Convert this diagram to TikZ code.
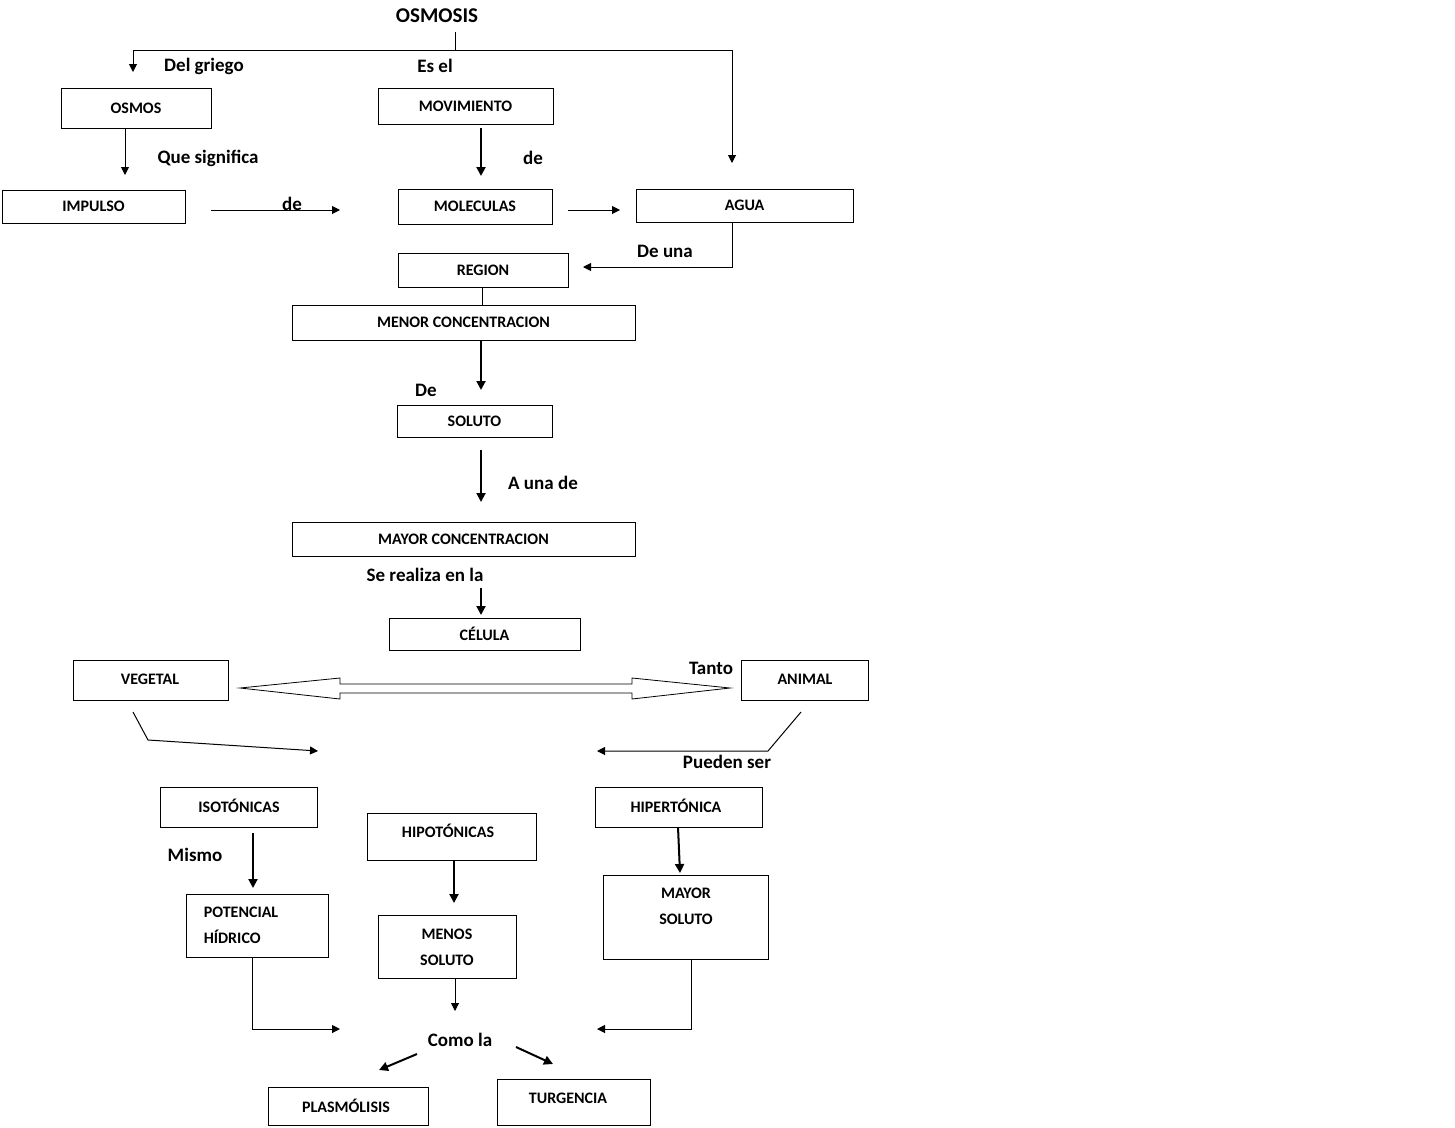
\documentclass[tikz,border=0pt]{standalone}
\usepackage{fontspec}
\setmainfont{Carlito}
\usetikzlibrary{arrows.meta}
\begin{document}
\begin{tikzpicture}[x=1pt,y=-1pt,
 bx/.style={draw,line width=1pt},
 bt/.style={font=\bfseries\fontsize{16}{26}\selectfont,align=center,inner sep=0},
 lb/.style={font=\bfseries\fontsize{19}{22}\selectfont,inner sep=0},
 ar/.style={-{Triangle[length=8pt,width=8pt]},line width=1pt},
 thk/.style={-{Triangle[length=9pt,width=9pt]},line width=2pt}]
\useasboundingbox (0,0) rectangle (1455,1127);
\newcommand\bb[6]{\draw[bx] (#2,#3) rectangle (#4,#5); \node[bt] (#1) at ({(#2+#4)/2},{(#3+#5)/2}) {#6};}
\node[lb,font=\bfseries\fontsize{21}{24}\selectfont] (t) at (437,16) {OSMOSIS};
\draw[line width=1pt] (455,32)--(455,50);
\draw[line width=1pt] (455,50)--(133,50); \draw[line width=1pt] (455,50)--(732,50);
\draw[ar] (133,50)--(133,72); \draw[ar] (732,50)--(732,163);
\node[lb] at (204,66) {Del griego}; \node[lb] at (435,66) {Es el};
\bb{osmos}{61}{88}{211}{128}{OSMOS}
\bb{mov}{378}{88}{553}{124}{MOVIMIENTO}
\bb{imp}{2}{190}{185}{223}{IMPULSO}
\bb{mol}{398}{189}{552}{224}{MOLECULAS}
\bb{agua}{636}{189}{853}{222}{AGUA}
\bb{reg}{398}{253}{568}{287}{REGION}
\bb{men}{292}{305}{635}{340}{MENOR CONCENTRACION}
\bb{sol}{397}{405}{552}{437}{SOLUTO}
\bb{may}{292}{522}{635}{556}{MAYOR CONCENTRACION}
\bb{cel}{389}{618}{580}{650}{CÉLULA}
\draw[bx] (73,660) rectangle (228,700); \node[bt] (veg) at (150,679) {VEGETAL};
\draw[bx] (741,660) rectangle (868,700); \node[bt] (ani) at (805,679) {ANIMAL};
\draw[bx] (160,787) rectangle (317,827); \node[bt] (iso) at (239,806) {ISOTÓNICAS};
\draw[bx] (367,813) rectangle (536,860); \node[bt] (hipo) at (448,831) {HIPOTÓNICAS};
\draw[bx] (595,787) rectangle (762,827); \node[bt] (hiper) at (676,806) {HIPERTÓNICA};
\draw[bx] (186,894) rectangle (328,957); \node[bt,align=left] (pot) at (241,925) {POTENCIAL\\HÍDRICO};
\draw[bx] (378,915) rectangle (516,978); \node[bt] (mens) at (447,947) {MENOS\\SOLUTO};
\draw[bx] (603,875) rectangle (768,959); \node[bt] (mays) at (686,906) {MAYOR\\SOLUTO};
\draw[bx] (268,1087) rectangle (428,1125); \node[bt] (pla) at (346,1106) {PLASMÓLISIS};
\draw[bx] (497,1079) rectangle (650,1125); \node[bt] (tur) at (568,1098) {TURGENCIA};
\draw[ar] (125,128)--(125,175); \node[lb] at (208,158) {Que significa};
\draw[thk] (481,128)--(481,176); \node[lb] at (533,158) {de};
\draw[ar] (211,210)--(340,210); \node[lb] at (292,204) {de};
\draw[ar] (568,210)--(620,210);
\draw[ar] (732,222)--(732,267)--(583,267); \node[lb] at (665,251) {De una};
\draw[line width=1pt] (482,287)--(482,305);
\draw[thk] (481,340)--(481,390); \node[lb] at (426,390) {De};
\draw[thk] (481,450)--(481,502); \node[lb] at (543,483) {A una de};
\draw[thk] (481,588)--(481,615); \node[lb] at (425,575) {Se realiza en la};
\draw[line width=0.8pt] (240,688)--(340,678)--(340,684)--(632,684)--(632,678)--(730,688)--(632,699)--(632,693)--(340,693)--(340,699)--cycle;
\node[lb] at (711,668) {Tanto};
\draw[ar] (133,712)--(148,740)--(318,751);
\draw[ar] (801,712)--(768,751)--(597,751); \node[lb] at (727,762) {Pueden ser};
\draw[thk] (253,833)--(253,888); \node[lb] at (195,855) {Mismo};
\draw[thk] (454,860)--(454,903);
\draw[thk] (678,827)--(680,873);
\draw[ar] (252,957)--(252,1029)--(340,1029);
\draw[ar] (455,978)--(455,1011);
\draw[ar] (691,959)--(691,1029)--(597,1029);
\node[lb] at (460,1040) {Como la};
\draw[thk] (417,1054)--(379,1070);
\draw[thk] (516,1047)--(553,1064);
\end{tikzpicture}
\end{document}
